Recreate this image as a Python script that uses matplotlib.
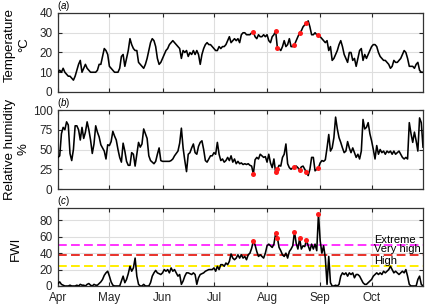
import numpy as np
import pandas as pd
import matplotlib
matplotlib.use('Agg')
import matplotlib.pyplot as plt

# daily values, 1 Apr - 31 Oct
temperature = [10, 11, 10, 12, 10, 9, 8, 8, 7, 6,
               8, 11, 14, 16, 10, 12, 14, 12, 11, 10,
               10, 10, 10, 11, 14, 14, 18, 22, 21, 19,
               13, 12, 11, 10, 10, 10, 12, 18, 19, 13,
               17, 21, 27, 24, 22, 21, 21, 15, 14, 13,
               12, 14, 17, 21, 25, 27, 26, 23, 17, 14,
               15, 17, 19, 21, 22, 24, 25, 26, 25, 24,
               23, 22, 17, 21, 20, 21, 18, 20, 19, 21,
               19, 21, 19, 14, 19, 22, 24, 25, 24, 24,
               23, 22, 21, 21, 23, 22, 23, 23, 24, 26,
               28, 25, 26, 27, 26, 27, 25, 29, 30, 30,
               29, 29, 29, 30, 30.5, 28, 27, 29, 28, 28,
               29, 28, 29, 26, 25, 28, 29, 31, 22.5, 22,
               21, 23, 26, 23, 24, 27, 23, 23, 24, 26,
               28, 30, 31, 33, 34, 35, 36, 33, 29, 29,
               30, 29, 29, 28, 27, 26, 25, 26, 21, 23,
               16, 17, 19, 21, 24, 26, 23, 19, 17, 15,
               20, 20, 16, 17, 13, 17, 21, 22, 16, 19,
               17, 19, 21, 23, 24, 24, 23, 20, 18, 17,
               16, 16, 15, 14, 12, 13, 16, 15, 15, 16,
               17, 19, 21, 20, 17, 13, 13, 13, 12, 14,
               15, 11, 10, 10]

humidity = [40, 42, 70, 78, 75, 85, 81, 45, 36, 50,
            80, 80, 75, 62, 78, 64, 72, 85, 75, 62,
            45, 57, 80, 72, 66, 56, 52, 48, 38, 56,
            55, 60, 73, 67, 62, 50, 40, 34, 58, 48,
            35, 30, 30, 46, 44, 29, 44, 59, 53, 57,
            76, 70, 64, 42, 36, 34, 32, 35, 44, 52,
            36, 35, 35, 35, 35, 35, 36, 38, 42, 45,
            48, 58, 77, 52, 36, 22, 44, 46, 52, 57,
            46, 44, 54, 59, 61, 50, 36, 34, 38, 42,
            42, 46, 44, 59, 44, 36, 38, 34, 36, 40,
            36, 42, 34, 38, 32, 35, 32, 33, 31, 32,
            31, 32, 30, 29, 19, 37, 40, 38, 44, 42,
            40, 41, 34, 44, 33, 27, 38, 21, 25, 30,
            29, 40, 44, 57, 32, 27, 25, 27, 28, 29,
            27, 24, 28, 29, 25, 21, 17, 25, 40, 40,
            23, 25, 27, 33, 36, 35, 37, 52, 69, 48,
            52, 65, 91, 76, 65, 59, 52, 46, 48, 60,
            52, 46, 52, 46, 40, 44, 38, 48, 88, 76,
            78, 84, 70, 61, 50, 38, 55, 44, 50, 46,
            48, 44, 48, 46, 48, 44, 48, 44, 46, 48,
            44, 40, 38, 40, 38, 84, 70, 59, 72, 61,
            48, 90, 84, 53]

fwi = [3, 5, 2, 1, 0, 0, 0, 1, 0, 0,
       0, 1, 0, 2, 1, 1, 0, 2, 3, 1,
       0, 2, 1, 1, 3, 5, 8, 13, 16, 18,
       12, 5, 1, 0, 0, 0, 0, 6, 12, 4,
       8, 15, 24, 18, 22, 34, 12, 2, 0, 0,
       2, 0, 0, 0, 4, 12, 16, 19, 16, 15,
       14, 16, 20, 18, 20, 16, 22, 18, 20, 16,
       12, 14, 2, 6, 12, 16, 16, 15, 14, 16,
       14, 2, 10, 14, 15, 16, 18, 19, 20, 20,
       20, 22, 18, 24, 20, 26, 26, 24, 28, 26,
       30, 39, 34, 32, 34, 38, 34, 38, 34, 36,
       32, 38, 40, 46, 55, 50, 42, 36, 38, 36,
       34, 40, 49, 51, 49, 47, 51, 64, 59, 47,
       43, 38, 36, 40, 34, 42, 45, 49, 66, 52,
       45, 58, 45, 49, 48, 56, 49, 43, 51, 45,
       51, 43, 88, 55, 40, 49, 34, 2, 36, 4,
       0, 0, 1, 0, 2, 12, 16, 14, 16, 12,
       16, 14, 16, 10, 14, 14, 12, 8, 4, 2,
       2, 4, 6, 8, 12, 14, 16, 14, 16, 14,
       18, 16, 18, 20, 24, 20, 16, 18, 16, 14,
       16, 18, 16, 20, 12, 2, 0, 0, 0, 0,
       8, 12, 2, 0]

# days with red markers
hot_days = [114, 127, 128, 138, 141, 145, 152]

# FWI danger classes
danger_levels = [50, 38, 24]
danger_names = ['Extreme', 'Very high', 'High']
danger_colors = ['#ff33ff', '#e8302a', '#ffee00']
danger_text_y = [52, 41.5, 26.5]

month_names = ['Apr', 'May', 'Jun', 'Jul', 'Aug', 'Sep', 'Oct']

plt.rcParams['font.family'] = ['Liberation Sans', 'DejaVu Sans']
plt.rcParams['mathtext.fontset'] = 'custom'
plt.rcParams['mathtext.rm'] = 'Liberation Sans'
plt.rcParams['mathtext.it'] = 'Liberation Sans:italic'

dates = pd.date_range('2017-04-01', periods=len(temperature), freq='D')
day = np.arange(len(dates))
month_starts = [i for i, d in enumerate(dates) if d.day == 1]

fig = plt.figure(figsize=(4.25, 3.04), dpi=100)
W, H = 425, 304
left, width = 58 / W, 365 / W
boxes = [(13, 92), (110, 189), (208, 286)]
axes = [fig.add_axes([left, 1 - b / H, width, (b - t) / H]) for t, b in boxes]

series = [temperature, humidity, fwi]
ylabels = ['Temperature\n°C', 'Relative humidity\n%', 'FWI']
ylims = [(0, 40), (0, 100), (0, 95)]
yticks = [[0, 10, 20, 30, 40], [0, 25, 50, 75, 100], [0, 20, 40, 60, 80]]
tags = [r'($\it{a}$)', r'($\it{b}$)', r'($\it{c}$)']
label_x = [-0.077, -0.077, -0.10]
label_y = [0.6, 0.5, 0.48]

for i, ax in enumerate(axes):
    vals = np.array(series[i], dtype=float)
    ax.plot(day, vals, color='black', lw=1.15, zorder=3)
    ax.plot(day[hot_days], vals[hot_days], 'o', color='#ff1a1a', ms=3.6,
            mec='none', zorder=4)
    ax.set_xlim(0, 213)
    ax.set_ylim(*ylims[i])
    ax.set_yticks(yticks[i])
    ax.set_xticks(month_starts)
    if i == 2:
        ax.set_xticklabels(month_names)
    else:
        ax.set_xticklabels([])
    ax.grid(True, color='#dedede', lw=0.8, zorder=0)
    ax.set_axisbelow(True)
    ax.tick_params(direction='in', length=3, width=0.8, colors='#262626',
                   labelsize=8.5, top=True, right=True, pad=4)
    ax.tick_params(axis='x', pad=4)
    for sp in ax.spines.values():
        sp.set_color('#333333')
        sp.set_linewidth(0.9)
    ax.set_ylabel(ylabels[i], fontsize=9.5, linespacing=1.25)
    ax.yaxis.set_label_coords(label_x[i], label_y[i])
    ax.text(-0.003, 1.0, tags[i], transform=ax.transAxes, fontsize=7,
            ha='left', va='bottom')

ax = axes[2]
for lvl, name, col, ty in zip(danger_levels, danger_names, danger_colors, danger_text_y):
    ax.axhline(lvl, color=col, lw=1.4, ls=(0, (4.5, 2.2)), zorder=2)
    ax.text(184.5, ty, name, fontsize=8, va='baseline', ha='left', zorder=5)

fig.savefig('out.png', dpi=100)
